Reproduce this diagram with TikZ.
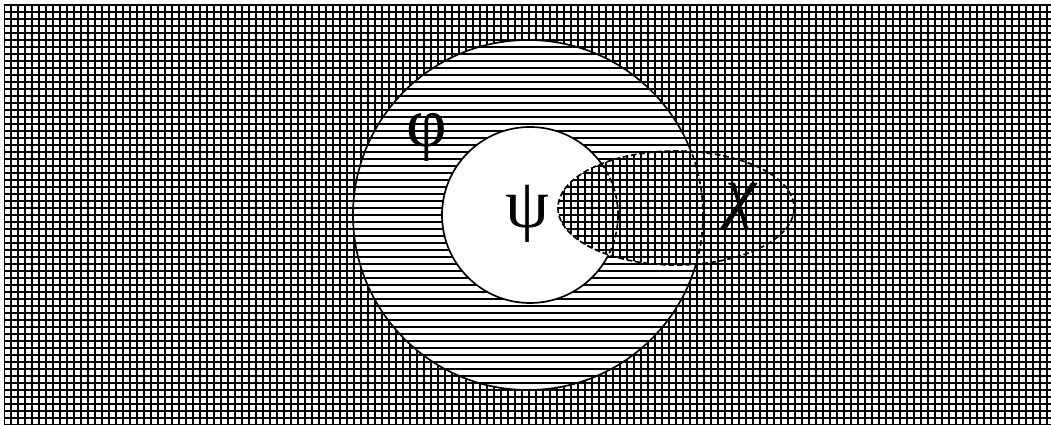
\documentclass[tikz,border=0pt]{standalone}
\usepackage{fontspec}
\newfontfamily\greekfont{Liberation Serif}

\begin{document}
\begin{tikzpicture}[
    x=0.025cm, y=-0.025cm,
    hatch/.style={line width=1.6pt, black},
    outline/.style={line width=1.2pt, black},
    dashline/.style={line width=1.2pt, black, dash pattern=on 4pt off 2pt},
    greek/.style={font=\greekfont\fontsize{50}{54}\selectfont, inner sep=0pt}
]
\useasboundingbox (0,0) rectangle (1051,425);

% centres of the three regions
\coordinate (phi) at (528,215);
\coordinate (psi) at (530,215);
\coordinate (chi) at (676,208);

% grid everywhere
\begin{scope}
    \clip (4,5) rectangle (1051,425);
    \foreach \x in {4,11,...,1051} \draw[hatch] (\x,0) -- (\x,425);
    \foreach \y in {5,12,...,425} \draw[hatch] (0,\y) -- (1051,\y);
\end{scope}

% phi: horizontal lines
\fill[white] (phi) circle (175);
\begin{scope}
    \clip (phi) circle (175);
    \foreach \y in {40,47,...,390} \draw[hatch] (345,\y) -- (710,\y);
\end{scope}
\draw[outline] (phi) circle (175);

% psi: blank
\fill[white] (psi) circle (88);
\draw[outline] (psi) circle (88);

% chi: grid again, dashed borders inside
\fill[white] (chi) ellipse [x radius=118, y radius=57];
\begin{scope}
    \clip (chi) ellipse [x radius=118, y radius=57];
    \foreach \x in {557,564,...,795} \draw[hatch] (\x,145) -- (\x,270);
    \foreach \y in {145,152,...,270} \draw[hatch] (550,\y) -- (800,\y);
    \draw[dashline] (phi) circle (175);
    \draw[dashline] (psi) circle (88);
\end{scope}
\draw[dashline] (chi) ellipse [x radius=118, y radius=57];

% labels
\node[greek] (phiL) at (427,137) {φ};
\node[greek] (psiL) at (527,214) {ψ};
\node[greek] (chiL) at (741,207) {\itshape χ};

\end{tikzpicture}
\end{document}
